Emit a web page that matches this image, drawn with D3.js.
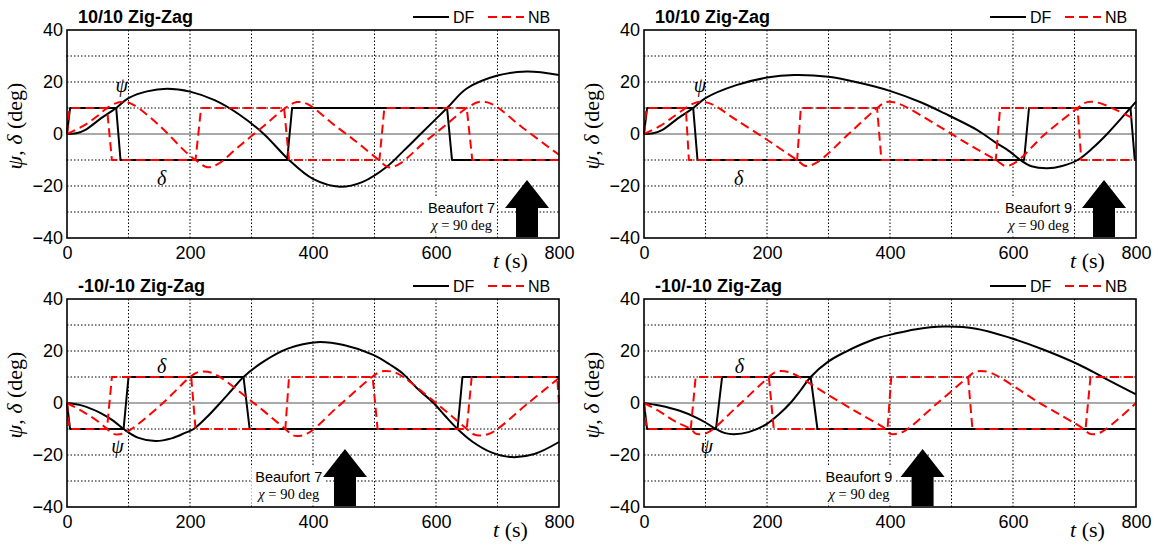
<!DOCTYPE html>
<html>
<head>
<meta charset="utf-8">
<script src="https://cdn.jsdelivr.net/npm/d3@7"></script>
<style>
  body { margin: 0; background: #fff; }
  text { font-family: Arial, "Liberation Sans", sans-serif; }
  .serif { font-family: "Times New Roman", "Liberation Serif", serif; }
</style>
</head>
<body>
<div id="chart-wrapper"></div>
<script>

//////////////////////////////////////////////////
/////////////////// Data /////////////////////////
//////////////////////////////////////////////////

const xTicks = [0, 200, 400, 600, 800]
const yTicks = [40, 20, 0, -20, -40]
const titles = ["10/10 Zig-Zag", "10/10 Zig-Zag", "-10/-10 Zig-Zag", "-10/-10 Zig-Zag"]
const beaufort = ["Beaufort 7", "Beaufort 9", "Beaufort 7", "Beaufort 9"]
const seriesNames = ["DF", "NB"]

// [t (s), deg]
// panel 1 : 10/10, Beaufort 7
const p1DfPsi = [[0,0],[15,0.3],[30,1.6],[55,6],[80,10],[100,13.8],[130,16.4],[163,17.4],[200,16.3],[240,13],[280,7.5],[320,0],[361,-10],[400,-17.3],[444,-20.3],[480,-18.5],[520,-12.6],[548,-6.3],[575,0],[618,10],[650,17.5],[700,22.5],[748,24],[800,22.7]]
const p1DfDelta = [[0,0],[5,10],[80,10],[87,-10],[358,-10],[366,10],[618,10],[626,-10],[800,-10]]
const p1NbPsi = [[0,0],[27,3.2],[50,7],[65,10],[79,11.8],[89,12.3],[105,11.6],[150,3.3],[190,-6.2],[209,-10],[228,-12.8],[245,-11.6],[280,-4.7],[320,3.1],[355,10],[374,12.3],[392,11.4],[430,4.3],[470,-2.9],[507,-10],[523,-12.8],[540,-11.6],[580,-3.4],[615,3.3],[650,10],[672,12.4],[692,11.4],[740,2.6],[800,-8]]
const p1NbDelta = [[0,0],[4,10],[65,10],[73,-10],[209,-10],[218,10],[353,10],[361,-10],[508,-10],[516,10],[650,10],[659,-10],[800,-10]]

// panel 2 : 10/10, Beaufort 9
const p2DfPsi = [[0,0],[15,0.3],[30,1.6],[55,6],[80,10],[100,13.8],[150,18.8],[200,21.7],[244,22.7],[300,22],[350,19.7],[401,16.5],[450,12.2],[488,8],[542,1.5],[570,-3],[595,-6.8],[612,-10],[630,-12.4],[656,-13.2],[680,-12.3],[705,-10],[730,-5.3],[753,0],[791,10],[800,12.4]]
const p2DfDelta = [[0,0],[5,10],[80,10],[87,-10],[618,-10],[626,10],[791,10],[798,-10],[800,-10]]
const p2NbPsi = [[0,0],[27,3.2],[50,7],[68,10],[81,11.8],[92,12.4],[110,11.5],[150,5.4],[200,-2.2],[233,-7.5],[249,-10],[263,-12.3],[282,-10.8],[330,-0.6],[360,6],[379,10],[390,11.9],[398,12.4],[415,11.6],[480,2.9],[530,-4.3],[572,-10],[588,-12.3],[605,-10.8],[650,-0.5],[705,10],[716,11.9],[726,12.4],[745,11.6],[800,5.4]]
const p2NbDelta = [[0,0],[4,10],[68,10],[73,-10],[249,-10],[255,10],[379,10],[386,-10],[572,-10],[579,10],[705,10],[711,-10],[800,-10]]

// panel 3 : -10/-10, Beaufort 7
const p3DfPsi = [[0,0],[25,-1],[54,-3.8],[75,-6.8],[92,-10],[115,-13.3],[144,-14.6],[170,-13.6],[192,-11.5],[206,-10],[228,-5.3],[249,0],[268,5],[287,10],[320,16],[360,21],[406,23.4],[450,22.3],[498,18.5],[525,14.8],[545,11.5],[570,5.5],[596,0],[615,-5],[635,-10],[660,-15],[690,-19],[723,-20.8],[760,-19.6],[800,-15]]
const p3DfDelta = [[0,0],[5,-10],[92,-10],[100,10],[287,10],[297,-10],[635,-10],[643,10],[800,10]]
const p3NbPsi = [[0,0],[27,-3.5],[50,-7],[65,-10],[74,-11.7],[81,-12.1],[95,-11.4],[150,-1.3],[200,10],[211,11.7],[220,12.1],[238,11.4],[300,0.7],[355,-10],[366,-12.2],[374,-12.7],[392,-11.6],[440,-1.5],[496,10],[508,11.9],[518,12.3],[536,11.5],[600,0],[650,-10],[662,-12.1],[672,-12.5],[690,-11.5],[750,0],[800,9.6]]
const p3NbDelta = [[0,0],[4,-10],[65,-10],[73,10],[202,10],[209,-10],[355,-10],[361,10],[497,10],[505,-10],[650,-10],[658,10],[797,10],[800,0]]

// panel 4 : -10/-10, Beaufort 9
const p4DfPsi = [[0,0],[25,-1],[58,-3],[84,-5.5],[100,-7.5],[117,-10],[132,-11.6],[146,-12],[170,-11.2],[200,-8],[220,-4.2],[238,0],[255,5],[271,10],[300,16],[327,19.6],[352,22.4],[383,25.2],[405,26.5],[440,28.3],[488,29.4],[540,28.6],[596,25],[650,20.5],[705,15],[748,9.7],[800,3.3]]
const p4DfDelta = [[0,0],[5,-10],[117,-10],[127,10],[271,10],[282,-10],[800,-10]]
const p4NbPsi = [[0,0],[27,-3.5],[50,-7],[76,-10],[84,-11.8],[90,-12],[105,-11.2],[150,-1.7],[203,10],[213,11.8],[222,12.3],[240,11.5],[300,3],[350,-4],[393,-10],[400,-11.8],[406,-12],[422,-11],[475,-0.5],[527,10],[537,11.8],[547,12.3],[565,11.5],[640,0.5],[715,-10],[724,-11.8],[730,-12],[745,-11],[800,0]]
const p4NbDelta = [[0,0],[4,-10],[76,-10],[84,10],[203,10],[211,-10],[396,-10],[402,10],[527,10],[534,-10],[718,-10],[726,10],[800,10]]

const dfPsi = [p1DfPsi, p2DfPsi, p3DfPsi, p4DfPsi]
const dfDelta = [p1DfDelta, p2DfDelta, p3DfDelta, p4DfDelta]
const nbPsi = [p1NbPsi, p2NbPsi, p3NbPsi, p4NbPsi]
const nbDelta = [p1NbDelta, p2NbDelta, p3NbDelta, p4NbDelta]

//////////////////////////////////////////////////
/////////////////// Layout ///////////////////////
//////////////////////////////////////////////////

const width = 1158
const height = 546
const panelW = 492
const panelH = 208
const panels = [
  {left: 67, top: 30},
  {left: 644, top: 30},
  {left: 67, top: 299},
  {left: 644, top: 299},
]
// label / annotation anchors in data units (t, deg)
const psiLabel = [[89, 16.3], [91, 16.3], [82, -19.2], [102, -19.2]]
const deltaLabel = [[154, -19.6], [154, -19.6], [154, 11.7], [155, 11.7]]
const noteAnchor = [[696, 748], [696, 748], [415, 452], [404, 453]] // text right end, arrow centre
const dfColor = "#000"
const nbColor = "#ff0000"

const svg = d3.select("#chart-wrapper")
  .append("svg")
    .attr("width", width)
    .attr("height", height)

panels.forEach((p, i) => {
  const g = svg.append("g").attr("transform", `translate(${p.left}, ${p.top})`)
  const x = d3.scaleLinear().domain([0, 800]).range([0, panelW])
  const y = d3.scaleLinear().domain([-40, 40]).range([panelH, 0])

  // grid
  g.selectAll(".vgrid")
    .data(d3.range(100, 800, 100))
    .join("line")
      .attr("x1", d => x(d)).attr("x2", d => x(d))
      .attr("y1", 0).attr("y2", panelH)
      .attr("stroke", "#000").attr("stroke-width", 1)
      .attr("stroke-dasharray", "1.5,2")
  g.selectAll(".hgrid")
    .data([30, 20, 10, -10, -20, -30])
    .join("line")
      .attr("x1", 0).attr("x2", panelW)
      .attr("y1", d => y(d)).attr("y2", d => y(d))
      .attr("stroke", "#000").attr("stroke-width", 1)
      .attr("stroke-dasharray", "1.5,2")
  g.append("line")
    .attr("x1", 0).attr("x2", panelW)
    .attr("y1", y(0)).attr("y2", y(0))
    .attr("stroke", "#555").attr("stroke-width", 1.2)

  // annotation (white box, text, arrow)
  const note = g.append("g")
  const noteText = note.append("g")
  const nx = x(noteAnchor[i][0])
  const nb = y(-30.4)
  noteText.append("text")
    .attr("x", nx).attr("y", nb)
    .attr("text-anchor", "end")
    .style("font-size", "14.5px")
    .text(beaufort[i])
  const chi = noteText.append("text")
    .attr("class", "serif")
    .attr("x", nx - 3).attr("y", nb + 16.5)
    .attr("text-anchor", "end")
    .style("font-size", "14.5px")
  chi.append("tspan").style("font-style", "italic").text("χ")
  chi.append("tspan").text(" = 90 deg")
  const bb = noteText.node().getBBox()
  note.insert("rect", ":first-child")
    .attr("x", bb.x - 4).attr("y", bb.y - 2)
    .attr("width", bb.width + 6).attr("height", bb.height + 4)
    .attr("fill", "#fff")

  const ac = x(noteAnchor[i][1])
  const arrowPts = [
    [ac, y(-17.7)], [ac + 22, y(-28.5)], [ac + 11, y(-28.5)], [ac + 11, y(-39.6)],
    [ac - 11, y(-39.6)], [ac - 11, y(-28.5)], [ac - 22, y(-28.5)]
  ]
  note.append("polygon")
    .attr("points", arrowPts.map(d => d.join(",")).join(" "))
    .attr("fill", "#000")

  // curves
  const stepLine = d3.line(d => x(d[0]), d => y(d[1]))
  const smoothLine = d3.line(d => x(d[0]), d => y(d[1])).curve(d3.curveCatmullRom.alpha(0.5))

  const series = [
    {data: dfDelta[i], gen: stepLine, color: dfColor, dash: null},
    {data: dfPsi[i], gen: smoothLine, color: dfColor, dash: null},
    {data: nbDelta[i], gen: stepLine, color: nbColor, dash: "9,5"},
    {data: nbPsi[i], gen: smoothLine, color: nbColor, dash: "9,5"},
  ]
  g.selectAll(".series")
    .data(series)
    .join("path")
      .attr("class", "series")
      .attr("d", d => d.gen(d.data))
      .attr("fill", "none")
      .attr("stroke", d => d.color)
      .attr("stroke-width", 2)
      .attr("stroke-dasharray", d => d.dash)
      .attr("stroke-linejoin", "round")

  // frame
  g.append("rect")
    .attr("width", panelW).attr("height", panelH)
    .attr("fill", "none").attr("stroke", "#000").attr("stroke-width", 1.6)

  // axes
  g.append("g")
    .call(d3.axisLeft(y).tickValues(yTicks).tickSize(0).tickPadding(4))
    .call(a => a.select(".domain").remove())
    .call(a => a.selectAll("text").style("font-size", "18px").attr("font-family", null))
  g.append("g")
    .attr("transform", `translate(0, ${panelH})`)
    .call(d3.axisBottom(x).tickValues(xTicks).tickSize(0).tickPadding(8))
    .call(a => a.select(".domain").remove())
    .call(a => a.selectAll("text").style("font-size", "18px").attr("font-family", null))

  // psi / delta labels
  g.append("text").attr("class", "serif")
    .attr("x", x(psiLabel[i][0])).attr("y", y(psiLabel[i][1]))
    .attr("text-anchor", "middle")
    .style("font-size", "20px").style("font-style", "italic")
    .text("ψ")
  g.append("text").attr("class", "serif")
    .attr("x", x(deltaLabel[i][0])).attr("y", y(deltaLabel[i][1]))
    .attr("text-anchor", "middle")
    .style("font-size", "20px").style("font-style", "italic")
    .text("δ")

  // axis titles
  const yl = g.append("text").attr("class", "serif")
    .attr("transform", `translate(${-45}, ${panelH / 2 - 8}) rotate(-90)`)
    .attr("text-anchor", "middle")
    .style("font-size", "22px")
  yl.append("tspan").style("font-style", "italic").text("ψ")
  yl.append("tspan").text(", ")
  yl.append("tspan").style("font-style", "italic").text("δ")
  yl.append("tspan").text(" (deg)")

  const xl = g.append("text").attr("class", "serif")
    .attr("x", panelW - 66).attr("y", panelH + 30)
    .style("font-size", "22px")
  xl.append("tspan").style("font-style", "italic").text("t")
  xl.append("tspan").text(" (s)")

  // title
  g.append("text")
    .attr("x", 11).attr("y", -7)
    .style("font-size", "18px").style("font-weight", "bold")
    .text(titles[i])

  // legend
  const lg = g.append("g").attr("transform", `translate(${panelW - 146}, -13)`)
  seriesNames.forEach((name, k) => {
    const ox = k * 75
    lg.append("line")
      .attr("x1", ox).attr("x2", ox + 36).attr("y1", 0).attr("y2", 0)
      .attr("stroke", k === 0 ? dfColor : nbColor).attr("stroke-width", 2)
      .attr("stroke-dasharray", k === 0 ? null : "9,5")
    lg.append("text")
      .attr("x", ox + 40).attr("y", 6)
      .style("font-size", "16px")
      .text(name)
  })
})

</script>
</body>
</html>
